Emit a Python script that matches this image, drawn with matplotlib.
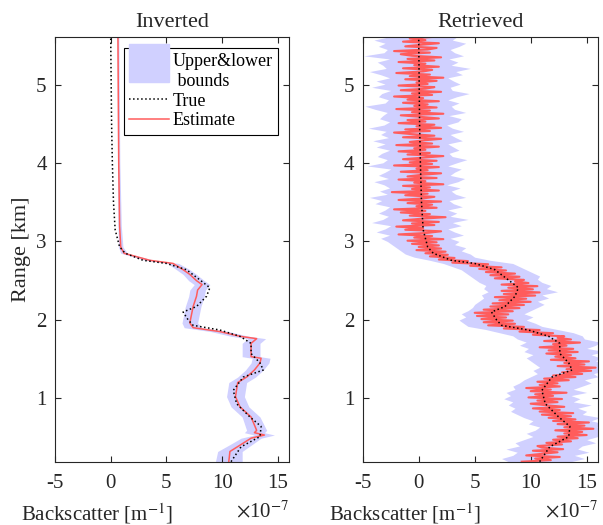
import numpy as np
import matplotlib
matplotlib.use("Agg")
import matplotlib.pyplot as plt
import matplotlib.patches as mpatches
from matplotlib.legend_handler import HandlerPatch

plt.rcParams['font.family'] = ['Liberation Serif', 'DejaVu Serif']
plt.rcParams['mathtext.fontset'] = 'stix'
plt.rcParams['axes.unicode_minus'] = False

# true profile (range km, backscatter x1e-7)
true_z = [0.19, 0.38, 0.51, 0.64, 0.76, 0.93, 1.10, 1.27, 1.36, 1.45, 1.57, 1.70,
          1.79, 1.87, 1.93, 2.00, 2.10, 2.17, 2.30, 2.41, 2.51, 2.64, 2.72, 2.76,
          2.85, 2.93, 3.15, 3.50, 4.00, 4.50, 5.61]
true_b = [10.8, 11.7, 13.4, 13.5, 12.5, 11.3, 11.0, 11.9, 13.7, 13.4, 12.6, 12.6,
          11.6, 9.8, 7.4, 6.95, 6.5, 7.7, 8.6, 8.9, 8.0, 6.8, 5.0, 2.9,
          1.3, 0.8, 0.4, 0.25, 0.15, 0.08, 0.0]

# inverted estimate and bound half-width
inv_z = [0.19, 0.32, 0.40, 0.49, 0.53, 0.56, 0.59, 0.76, 0.89, 1.02, 1.20, 1.27,
         1.36, 1.45, 1.51, 1.53, 1.70, 1.76, 1.79, 1.85, 1.90, 1.96, 2.17, 2.30,
         2.38, 2.45, 2.50, 2.58, 2.64, 2.72, 2.76, 2.85, 2.93, 3.20, 4.00, 5.61]
inv_b = [10.6, 10.7, 11.6, 12.6, 13.8, 12.9, 13.1, 12.6, 11.6, 11.2, 11.4, 12.2,
         12.9, 13.4, 13.5, 12.6, 12.6, 13.1, 11.6, 9.8, 7.4, 7.1, 7.4, 7.7,
         7.8, 8.2, 7.7, 7.1, 6.5, 5.6, 3.5, 1.2, 0.9, 0.8, 0.72, 0.65]
inv_err = [1.2, 1.1, 1.0, 0.9, 0.9, 0.9, 0.9, 0.8, 0.8, 0.8, 0.8, 0.8,
           0.8, 0.8, 0.8, 0.8, 0.8, 0.8, 0.8, 0.8, 0.8, 0.7, 0.7, 0.7,
           0.7, 0.7, 0.7, 0.6, 0.6, 0.5, 0.4, 0.3, 0.2, 0.15, 0.1, 0.08]

# retrieved estimate, bottom (0.19 km) to top (5.61 km), 0.02 km apart
ret_b = [9.2, 11.8, 10.4, 12.6, 9.6, 11.0, 12.4, 10.2, 12.9, 11.0,
         10.6, 12.8, 11.4, 13.6, 12.0, 14.2, 12.4, 15.0, 13.0, 14.6,
         12.2, 15.6, 13.0, 14.8, 12.4, 15.2, 12.0, 14.0, 11.6, 13.6,
         11.0, 13.8, 10.8, 12.6, 10.2, 13.0, 11.4, 10.0, 12.4, 10.6,
         12.8, 9.8, 12.0, 10.4, 13.2, 10.0, 11.8, 9.6, 12.6, 10.8,
         12.4, 10.6, 13.4, 11.2, 14.0, 12.0, 14.6, 12.8, 15.4, 13.2,
         15.8, 12.4, 14.8, 13.0, 15.2, 11.8, 14.0, 12.2, 13.6, 11.4,
         14.2, 11.6, 13.8, 10.8, 13.2, 12.0, 14.4, 11.2, 13.6, 12.4,
         13.0, 10.2, 12.0, 9.0, 10.8, 7.6, 9.4, 6.2, 8.6, 5.8,
         8.4, 5.6, 7.8, 5.2, 8.0, 5.0, 8.4, 5.8, 9.0, 6.4,
         9.4, 6.6, 10.0, 7.2, 9.6, 6.8, 10.4, 7.6, 10.8, 7.4,
         10.2, 8.0, 10.6, 7.4, 9.8, 8.6, 9.4, 6.8, 9.0, 6.4,
         8.6, 6.0, 7.8, 5.4, 7.4, 4.6, 6.2, 3.0, 4.4, 1.8,
         3.2, 1.0, 2.6, 0.6, 2.4, -0.2, 2.0, 0.0, 1.8, -0.6,
         1.6, -1.0, 2.2, -0.4, 1.2, -1.8, 0.8, 2.0, -1.2, 0.4,
         -2.0, 1.4, -0.6, 1.8, -1.4, 0.2, 2.4, -0.8, 1.0, -1.6,
         0.6, -2.2, 1.6, -0.2, 1.2, -1.0, 2.0, -1.8, 0.4, 1.4,
         -1.2, 0.8, -2.4, 1.8, -0.6, 1.0, -1.4, 2.2, -0.4, 0.6,
         -1.8, 1.6, -1.0, 0.2, 2.0, -1.6, 0.8, -0.2, 1.8, -2.2,
         1.2, -0.8, 1.6, -1.4, 0.4, 2.2, -1.0, 1.0, -1.8, 0.6,
         -0.4, 1.8, -2.0, 1.2, -0.8, 0.4, 2.0, -1.4, 1.4, -0.6,
         -2.2, 1.0, -1.2, 2.0, -0.2, 1.4, -1.8, 0.6, -1.0, 1.8,
         0.2, -1.6, 2.2, -0.6, 1.0, -2.0, 1.6, -0.4, 0.8, -1.4,
         1.8, -1.0, 0.4, -2.2, 1.2, -0.6, 2.0, -1.6, 0.6, 1.4,
         -1.8, 0.8, -0.2, 1.6, -1.2, 2.2, -0.8, 1.0, -2.0, 0.4,
         1.2, -1.4, 1.8, -0.4, 0.6, -1.8, 1.4, -1.0, 2.0, -0.6,
         -1.6, 1.0, -2.2, 0.8, 1.6, -1.2, 0.2, 1.8, -1.4, 0.6,
         -0.8, 1.2]
ret_z = np.linspace(0.19, 5.61, len(ret_b))

# retrieved upper and lower bounds, bottom to top, 0.04 km apart
ret_hi = [13.6, 14.8, 13.9, 15.2, 14.2, 14.6, 15.8, 15.0, 16.0, 16.4,
          16.8, 15.9, 16.6, 15.4, 16.2, 14.6, 15.0, 14.2, 15.4, 13.8,
          14.4, 13.6, 15.0, 13.8, 14.6, 15.4, 14.8, 16.0, 15.6, 16.8,
          16.4, 17.0, 15.8, 16.2, 15.4, 16.6, 15.0, 15.8, 16.2, 14.8,
          14.6, 13.8, 12.4, 11.0, 10.4, 9.6, 10.2, 9.4, 10.0, 10.6,
          11.2, 10.6, 11.6, 11.0, 12.4, 11.4, 11.8, 11.0, 10.6, 10.8,
          10.2, 9.6, 9.0, 8.4, 6.4, 5.0, 4.6, 3.8, 4.2, 3.2,
          3.6, 2.8, 4.0, 3.2, 2.6, 3.8, 3.0, 4.4, 2.8, 3.4,
          2.6, 3.9, 3.1, 2.7, 4.2, 3.3, 2.9, 3.7, 2.5, 3.5,
          4.1, 2.8, 3.2, 3.8, 2.6, 3.4, 4.3, 3.0, 2.7, 3.6,
          3.1, 2.6, 3.9, 3.3, 2.8, 4.0, 3.0, 2.5, 3.5, 3.8,
          2.7, 4.2, 3.2, 2.9, 3.6, 2.6, 3.4, 4.5, 3.0, 2.8,
          3.7, 3.1, 2.6, 3.9, 3.3, 4.6, 2.9, 3.5, 2.7, 4.0,
          3.2, 2.8, 3.6, 4.2, 3.0, 3.4]
ret_lo = [8.0, 7.4, 8.4, 8.8, 7.8, 9.0, 8.6, 9.4, 10.2, 9.6,
          10.4, 10.8, 9.8, 10.2, 9.4, 8.8, 8.2, 8.6, 8.0, 8.4,
          7.6, 8.2, 7.8, 8.6, 8.4, 9.0, 9.4, 10.0, 10.6, 10.2,
          10.8, 10.4, 10.0, 9.6, 10.2, 9.4, 9.8, 9.0, 9.6, 8.8,
          8.4, 7.2, 6.0, 4.4, 4.0, 3.6, 4.2, 3.8, 4.4, 4.8,
          5.0, 5.4, 5.8, 5.6, 6.2, 5.8, 6.0, 5.4, 5.0, 4.6,
          4.2, 3.8, 3.0, 2.2, 1.0, -0.4, -1.2, -1.6, -2.0, -2.4,
          -2.8, -3.4, -2.6, -3.8, -3.0, -2.5, -4.2, -3.2, -2.7, -3.6,
          -3.0, -2.6, -3.9, -3.3, -4.4, -2.8, -3.5, -2.6, -3.1, -4.0,
          -2.7, -3.6, -3.0, -2.5, -4.6, -3.2, -2.8, -3.7, -3.3, -2.6,
          -3.8, -3.0, -4.1, -2.7, -3.4, -2.9, -4.5, -3.1, -2.6, -3.5,
          -3.2, -2.8, -3.9, -4.8, -3.0, -2.7, -3.6, -3.3, -2.5, -4.2,
          -3.0, -3.8, -2.6, -3.4, -4.4, -2.9, -3.2, -3.7, -2.6, -4.9,
          -3.1, -2.8, -3.6, -3.0, -4.0, -2.7]
bnd_z = np.linspace(0.19, 5.61, len(ret_hi))

red = '#ff5c5c'
band = '#d0d0ff'
ink = '#262626'

fig = plt.figure(figsize=(6.03, 5.25), dpi=100)
ax1 = fig.add_axes([0.0912, 0.1206, 0.388, 0.809])
ax2 = fig.add_axes([0.6015, 0.1206, 0.390, 0.809])

inv_b = np.array(inv_b)
inv_err = np.array(inv_err)
ax1.fill_betweenx(inv_z, inv_b - inv_err, inv_b + inv_err, color=band, lw=0)
h_est, = ax1.plot(inv_b, inv_z, '-', color=red, lw=1.1)
h_true, = ax1.plot(true_b, true_z, ':', color='k', lw=1.1)

ax2.fill_betweenx(bnd_z, ret_lo, ret_hi, color=band, lw=0)
ax2.plot(ret_b, ret_z, '-', color=red, lw=1.5)
ax2.plot(true_b, true_z, ':', color='k', lw=1.1)


def tall_patch(legend, orig_handle, xdescent, ydescent, width, height, fontsize):
    return mpatches.Rectangle((-xdescent, -ydescent - 0.3 * height), width, 3.0 * height)


leg = ax1.legend([mpatches.Patch(color=band), h_true, h_est],
                 ['Upper&lower\n bounds', 'True', 'Estimate'],
                 loc='upper right', fontsize=13, frameon=True, fancybox=False,
                 edgecolor='k', framealpha=1, borderaxespad=0.6,
                 handlelength=2.2, handletextpad=0.2, labelspacing=0.15,
                 borderpad=0.3,
                 handler_map={mpatches.Patch: HandlerPatch(patch_func=tall_patch)})
leg.get_frame().set_linewidth(0.8)

for ax, title in [(ax1, 'Inverted'), (ax2, 'Retrieved')]:
    ax.set_xlim(-5, 16)
    ax.set_ylim(0.19, 5.61)
    ax.set_xticks([-5, 0, 5, 10, 15])
    ax.set_yticks([1, 2, 3, 4, 5])
    ax.tick_params(direction='in', top=True, right=True, length=4, width=0.8,
                   labelsize=15, colors=ink)
    ax.tick_params(axis='x', pad=9)
    ax.tick_params(axis='y', pad=6)
    for s in ax.spines.values():
        s.set_color(ink)
        s.set_linewidth(0.8)
    ax.set_title(title, fontsize=16, pad=7, color=ink)
    ax.set_xlabel('Backscatter [m$^{-1}$]', fontsize=15, color=ink)
    ax.xaxis.set_label_coords(0.18, -0.093)
    ax.text(1.0, -0.093, r'$\times$10$^{-7}$', transform=ax.transAxes,
            ha='right', va='top', fontsize=15, color=ink)

ax1.set_ylabel('Range [km]', fontsize=16, color=ink)

fig.savefig('out.png', dpi=100)
